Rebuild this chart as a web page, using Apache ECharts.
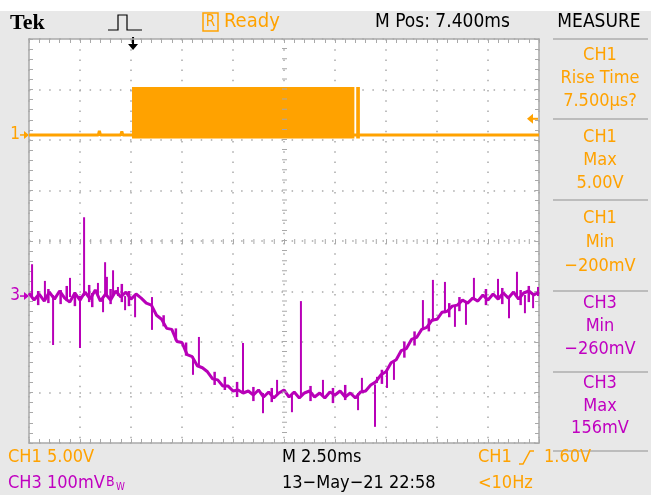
<!DOCTYPE html>
<html>
<head>
<meta charset="utf-8">
<script src="https://cdn.jsdelivr.net/npm/echarts@6/dist/echarts.min.js"></script>
<style>
html, body { margin: 0; padding: 0; background: #e8e8e8; }
#main { width: 651px; height: 495px; }
</style>
</head>
<body>
<div id="main"></div>
<script>
// scope settings
var ch1Scale = 5;        // V/div
var ch1Offset = 2.1;     // div above centre
var ch3Scale = 100;      // mV/div
var ch3Offset = -1.09;   // div
var trigTime = 5.1;      // ms from left edge
var trigLevel = 1.6;     // V
var timeSpan = 25;       // ms (10 div x 2.5ms)

// CH1 : baseline + PWM burst (drawn as filled blocks)
var ch1Trace = [[0, 0], [3.4, 0], [3.45, 0.4], [3.5, 0], [4.5, 0], [4.55, 0.35], [4.6, 0], [25, 0]];
var ch1Bursts = [[5.05, 15.95], [16.04, 16.22]];
var ch1High = 4.75;
var ch1Low = -0.35;

// CH3 : one sample every 0.25 ms, in mV
var ch3Step = 0.25;
var ch3Mv = [
  6, -8, 4, -10, 8, -6, 10, -4, -12, 6,
  -8, 8, -6, 12, -10, 4, -8, 10, -2, 8,
  -6, 4, -4, -14, -18, -38, -46, -64, -66, -90,
  -92, -116, -120, -138, -142, -150, -164, -166, -178, -178,
  -188, -186, -192, -188, -196, -186, -200, -190, -202, -192,
  -186, -200, -190, -202, -192, -188, -200, -192, -202, -190,
  -196, -188, -200, -192, -202, -190, -188, -176, -170, -156,
  -150, -132, -126, -108, -104, -86, -82, -66, -62, -48,
  -46, -32, -30, -20, -18, -8, -14, -4, -10, 2,
  -8, 4, -6, 6, -4, 8, -6, 6, 10, 2,
  8
];
// CH3 glitches: [time ms, low mV, high mV]
var ch3Spikes = [
  [0.15, -2, 63], [0.78, -4, 30], [1.18, -97, 2], [2.01, -2, 36], [2.5, -103, 0],
  [2.7, 0, 156], [3.38, 0, 26], [3.63, -32, 0], [3.73, 0, 67], [3.82, 0, 38],
  [4.12, 0, 51], [4.36, 0, 18], [4.71, -28, 0], [5.2, -42, 0], [6.03, -67, -2],
  [8.04, -156, -120], [8.33, -140, -81], [10.49, -190, -93], [11.47, -232, -192], [12.16, -196, -166],
  [12.89, -230, -194], [13.33, -196, -10], [14.41, -196, -166], [16.13, -226, -192], [16.32, -192, -162],
  [16.96, -259, -175], [17.06, -172, -160], [17.55, -182, -145], [17.89, -166, -130], [19.31, -65, -8],
  [19.8, -50, 32], [20.39, -34, 28], [20.88, -61, -20], [21.42, -57, -10], [21.81, -8, 36],
  [22.99, -4, 34], [23.53, -44, -2], [23.92, -2, 48], [24.31, -34, 2], [24.71, -24, 4],
  [24.95, 0, 18]
];
// short noise strokes inside the CH3 band: [time ms, low mV, high mV]
var ch3Noise = [
  [0.45, -18, 10], [0.95, -14, 14], [1.55, -16, 12], [1.85, -10, 20], [2.25, -20, 8],
  [2.95, -12, 22], [3.1, -22, 6], [4.0, -16, 14], [4.55, -12, 24], [4.9, -20, 10],
  [6.6, -60, -38], [7.2, -88, -64], [7.7, -118, -92], [9.1, -176, -150], [9.6, -186, -160],
  [10.2, -200, -170], [11.0, -208, -180], [11.9, -210, -182], [13.8, -208, -178], [14.9, -212, -182],
  [15.5, -206, -176], [17.3, -174, -146], [18.4, -122, -90], [18.9, -98, -70], [19.6, -70, -44],
  [20.6, -42, -14], [21.1, -30, -2], [22.4, -18, 14], [23.2, -16, 16], [24.1, -18, 12],
  [24.5, -12, 20]
];

var orange = '#ffa200';
var magenta = '#b800b8';
var magentaText = '#c000c0';
var gridGray = '#a9a9a9';
var fontName = '"DejaVu Sans Condensed", sans-serif';

function ch1Div(v) { return v / ch1Scale + ch1Offset; }
function ch3Div(v) { return v / ch3Scale + ch3Offset; }

var chart = echarts.init(document.getElementById('main'));

function graticuleAxis(pos, isX) {
  var a = {
    type: 'value',
    position: pos,
    min: isX ? 0 : -4,
    max: isX ? timeSpan : 4,
    interval: isX ? 2.5 : 1,
    axisLine: { show: true, onZero: false, lineStyle: { color: gridGray, width: 1.5 } },
    axisTick: { show: true, inside: true, length: 4, lineStyle: { color: gridGray } },
    minorTick: { show: true, splitNumber: 5, length: 4, lineStyle: { color: gridGray } },
    axisLabel: { show: false },
    splitLine: { show: false }
  };
  return a;
}

var xBottom = graticuleAxis('bottom', true);
xBottom.splitLine = { show: true, lineStyle: { color: gridGray, width: 1.5, type: [1.5, 8.7] } };
var yLeft = graticuleAxis('left', false);
yLeft.splitLine = { show: true, lineStyle: { color: gridGray, width: 1.5, type: [1.5, 8.6] } };

function strokeItem(width) {
  return function (params, api) {
    var a = api.coord([api.value(0), api.value(1)]);
    var b = api.coord([api.value(0), api.value(2)]);
    return { type: 'line', shape: { x1: a[0], y1: a[1], x2: b[0], y2: b[1] }, style: { stroke: magenta, lineWidth: width } };
  };
}

var option = {
  animation: false,
  backgroundColor: '#e8e8e8',
  grid: { left: 29, top: 39, width: 510, height: 404, show: true, backgroundColor: '#ffffff', borderWidth: 0 },
  xAxis: [xBottom, graticuleAxis('top', true)],
  yAxis: [yLeft, graticuleAxis('right', false)],
  series: [
    {
      type: 'line',
      name: 'centre',
      data: [],
      silent: true,
      markLine: {
        silent: true,
        symbol: 'none',
        label: { show: false },
        data: [
          { yAxis: 0, lineStyle: { color: gridGray, width: 5, type: [1, 9.2] } },
          { xAxis: 12.5, lineStyle: { color: gridGray, width: 5, type: [1, 9.1] } }
        ]
      }
    },
    {
      type: 'custom',
      name: 'CH1 burst',
      encode: { x: [0, 1], y: [2, 3] },
      data: ch1Bursts.map(function (b) { return [b[0], b[1], ch1Div(ch1High), ch1Div(ch1Low)]; }),
      renderItem: function (params, api) {
        var a = api.coord([api.value(0), api.value(2)]);
        var b = api.coord([api.value(1), api.value(3)]);
        return { type: 'rect', shape: { x: a[0], y: a[1], width: b[0] - a[0], height: b[1] - a[1] }, style: { fill: orange } };
      }
    },
    {
      type: 'line',
      name: 'CH1',
      symbol: 'none',
      data: ch1Trace.map(function (p) { return [p[0], ch1Div(p[1])]; }),
      lineStyle: { color: orange, width: 3 }
    },
    {
      type: 'line',
      name: 'CH3',
      symbol: 'none',
      data: ch3Mv.map(function (v, i) { return [i * ch3Step, ch3Div(v)]; }),
      lineStyle: { color: magenta, width: 3 }
    },
    {
      type: 'custom',
      name: 'CH3 noise',
      encode: { x: 0, y: [1, 2] },
      data: ch3Noise.map(function (s) { return [s[0], ch3Div(s[1]), ch3Div(s[2])]; }),
      renderItem: strokeItem(2.5)
    },
    {
      type: 'custom',
      name: 'CH3 glitch',
      encode: { x: 0, y: [1, 2] },
      data: ch3Spikes.map(function (s) { return [s[0], ch3Div(s[1]), ch3Div(s[2])]; }),
      renderItem: strokeItem(2)
    }
  ]
};
chart.setOption(option);

function txt(s, x, y, color, size, align, extra) {
  var o = {
    type: 'text', x: x, y: y, silent: true,
    style: { text: s, fill: color, font: (size || 18) + 'px ' + fontName, align: align || 'left', verticalAlign: 'middle' }
  };
  if (extra) { for (var k in extra) o.style[k] = extra[k]; }
  return o;
}

// markers placed from the axes
var p1 = chart.convertToPixel({ xAxisIndex: 0, yAxisIndex: 0 }, [0, ch1Div(0)]);
var p3 = chart.convertToPixel({ xAxisIndex: 0, yAxisIndex: 0 }, [0, ch3Div(0)]);
var pl = chart.convertToPixel({ xAxisIndex: 0, yAxisIndex: 0 }, [timeSpan, ch1Div(trigLevel)]);
var pt = chart.convertToPixel({ xAxisIndex: 0, yAxisIndex: 0 }, [trigTime, 4]);

var g = [];
// top white strip
g.push({ type: 'rect', shape: { x: 0, y: 0, width: 651, height: 11 }, style: { fill: '#ffffff' }, silent: true });
// top bar
g.push(txt('Tek', 10, 23, '#000', 22, 'left', { font: 'bold 22px "Liberation Serif", serif' }));
g.push({ type: 'polyline', shape: { points: [[108, 30], [118, 30], [118, 15], [127, 15], [127, 30], [142, 30]] }, style: { stroke: '#000', lineWidth: 1.2, fill: null }, silent: true });
g.push({ type: 'rect', shape: { x: 203, y: 13, width: 15, height: 18 }, style: { stroke: orange, lineWidth: 1.5, fill: null }, silent: true });
g.push(txt('R', 210.5, 22.5, orange, 15, 'center'));
g.push(txt('Ready', 224, 22, orange, 20));
g.push(txt('M Pos: 7.400ms', 375, 22, '#000', 19));
g.push(txt('MEASURE', 599, 22, '#000', 19, 'center'));

// trigger position arrow
g.push({ type: 'line', shape: { x1: pt[0], y1: pt[1] - 2, x2: pt[0], y2: pt[1] + 6 }, style: { stroke: '#000', lineWidth: 2 }, silent: true });
g.push({ type: 'polygon', shape: { points: [[pt[0] - 5, pt[1] + 5], [pt[0] + 5, pt[1] + 5], [pt[0], pt[1] + 11]] }, style: { fill: '#000' }, silent: true });

// channel ground markers
g.push(txt('1', 15, p1[1], orange, 17, 'center'));
g.push({ type: 'line', shape: { x1: 20, y1: p1[1], x2: 28, y2: p1[1] }, style: { stroke: orange, lineWidth: 1.5 }, silent: true });
g.push({ type: 'polygon', shape: { points: [[24, p1[1] - 4], [29, p1[1]], [24, p1[1] + 4]] }, style: { fill: orange }, silent: true });
g.push(txt('3', 15, p3[1], magentaText, 17, 'center'));
g.push({ type: 'line', shape: { x1: 20, y1: p3[1], x2: 28, y2: p3[1] }, style: { stroke: magentaText, lineWidth: 1.5 }, silent: true });
g.push({ type: 'polygon', shape: { points: [[24, p3[1] - 4], [29, p3[1]], [24, p3[1] + 4]] }, style: { fill: magentaText }, silent: true });

// trigger level marker
g.push({ type: 'polygon', shape: { points: [[pl[0] - 12, pl[1]], [pl[0] - 6, pl[1] - 5], [pl[0] - 6, pl[1] + 5]] }, style: { fill: orange }, silent: true });
g.push({ type: 'line', shape: { x1: pl[0] - 7, y1: pl[1], x2: pl[0] - 1, y2: pl[1] }, style: { stroke: orange, lineWidth: 2 }, silent: true });

// measure panel
var seps = [38, 118, 199, 290, 371, 450];
seps.forEach(function (y) {
  g.push({ type: 'rect', shape: { x: 553, y: y, width: 95, height: 2 }, style: { fill: '#bcbcbc' }, silent: true });
});
var measure = [
  [['CH1', 55], ['Rise Time', 78], ['7.500µs?', 101], orange],
  [['CH1', 137], ['Max', 160], ['5.00V', 183], orange],
  [['CH1', 218], ['Min', 242], ['\u2212200mV', 266], orange],
  [['CH3', 303], ['Min', 326], ['\u2212260mV', 349], magentaText],
  [['CH3', 383], ['Max', 406], ['156mV', 428], magentaText]
];
measure.forEach(function (m) {
  for (var i = 0; i < 3; i++) g.push(txt(m[i][0], 600, m[i][1], m[3], 18, 'center'));
});

// bottom bar
g.push(txt('CH1', 8, 457, orange, 18));
g.push(txt('5.00V', 47, 457, orange, 18));
g.push(txt('CH3', 8, 483, magentaText, 18));
g.push(txt('100mV', 47, 483, magentaText, 18));
g.push(txt('B', 106, 482, magentaText, 14));
g.push(txt('W', 116, 487, magentaText, 10));
g.push(txt('M 2.50ms', 282, 457, '#000', 18));
g.push(txt('13\u2212May\u221221 22:58', 282, 483, '#000', 18));
g.push(txt('CH1', 478, 457, orange, 18));
g.push({ type: 'polyline', shape: { points: [[519, 464], [523, 464], [530, 451], [534, 451]] }, style: { stroke: orange, lineWidth: 1.5, fill: null }, silent: true });
g.push(txt('1.60V', 544, 457, orange, 18));
g.push(txt('<10Hz', 478, 483, orange, 18));

chart.setOption({ graphic: g });
</script>
</body>
</html>
